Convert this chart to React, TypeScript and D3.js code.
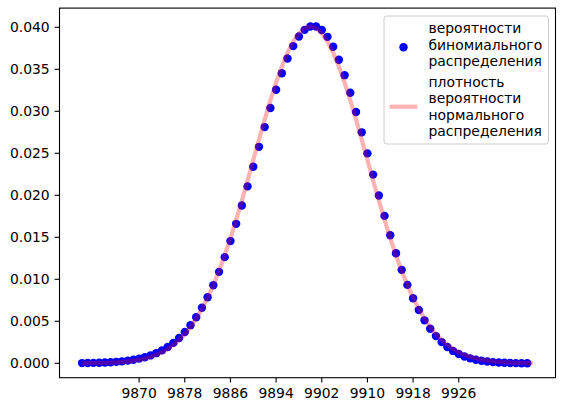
import React from "react";
import * as d3 from "d3";

// Support of the binomial distribution (integer outcomes)
const binomFirstK = 9860;
const binomLastK = 9938;
const normalFirstX = 9860;
const normalLastX = 9939;

// Binomial probabilities, k = 9860 .. 9938
const binomProb = [
  0.0000257, 0.0000332, 0.0000471, 0.0000661, 0.0000921, 0.000127, 0.000174, 0.000235, 0.000316, 0.00042,
  0.000553, 0.000724, 0.000939, 0.001206, 0.001536, 0.00194, 0.00243, 0.003018, 0.003718, 0.004541,
  0.005483, 0.006606, 0.007869, 0.009294, 0.010885, 0.012638, 0.014549, 0.016602, 0.018782, 0.02106,
  0.023402, 0.02577, 0.02812, 0.030399, 0.032558, 0.034538, 0.03629, 0.037761, 0.038909, 0.039696,
  0.040095, 0.04009, 0.039677, 0.038865, 0.037676, 0.03614, 0.034302, 0.032211, 0.029923, 0.027496,
  0.02499, 0.022464, 0.019968, 0.01755, 0.015251, 0.013102, 0.011125, 0.009336, 0.007743, 0.006344,
  0.005114, 0.004105, 0.00324, 0.002525, 0.001942, 0.001474, 0.001102, 0.000814, 0.000591, 0.000422,
  0.000298, 0.000206, 0.00014, 0.0000926, 0.0000601, 0.0000378, 0.0000231, 0.0000135, 0.0000094,
];

// Normal density, x = 9860 .. 9939
const normalPdf = [
  0.0000124, 0.0000185, 0.0000273, 0.0000398, 0.0000576, 0.0000824, 0.000117, 0.000164, 0.000228, 0.000313,
  0.000426, 0.000573, 0.000765, 0.00101, 0.001319, 0.001707, 0.002186, 0.002772, 0.003479, 0.004323,
  0.005318, 0.006475, 0.007806, 0.009315, 0.011005, 0.01287, 0.0149, 0.017076, 0.019375, 0.021762,
  0.024196, 0.026633, 0.029021, 0.031305, 0.03343, 0.035339, 0.036983, 0.038313, 0.039293, 0.039893,
  0.040095, 0.039893, 0.039293, 0.038313, 0.036983, 0.035339, 0.03343, 0.031305, 0.029021, 0.026633,
  0.024196, 0.021762, 0.019375, 0.017076, 0.0149, 0.01287, 0.011005, 0.009315, 0.007806, 0.006475,
  0.005318, 0.004323, 0.003479, 0.002772, 0.002186, 0.001707, 0.001319, 0.00101, 0.000765, 0.000573,
  0.000426, 0.000313, 0.000228, 0.000164, 0.000117, 0.0000824, 0.0000576, 0.0000398, 0.0000273, 0.0000185,
];

const xTicks = [9870, 9878, 9886, 9894, 9902, 9910, 9918, 9926];
const yTicks = [0, 0.005, 0.01, 0.015, 0.02, 0.025, 0.03, 0.035, 0.04];

const legendBinom = ["вероятности", "биномиального", "распределения"];
const legendNormal = ["плотность", "вероятности", "нормального", "распределения"];

const W = 565;
const H = 413;
const left = 59.5;
const right = 555.5;
const top = 8.1;
const bottom = 377.7;
const FONT = "DejaVu Sans, sans-serif";
const FS = 13.9;

export default function App() {
  const binomK = d3.range(binomFirstK, binomLastK + 1);
  const normX = d3.range(normalFirstX, normalLastX + 1);

  const xMin = d3.min([binomFirstK, normalFirstX])!;
  const xMax = d3.max([binomLastK, normalLastX])!;
  const xPad = (xMax - xMin) * 0.05;
  const x = d3.scaleLinear().domain([xMin - xPad, xMax + xPad]).range([left, right]);

  // y scale anchored to tick positions
  const y = d3.scaleLinear().domain([0, 0.04]).range([363.3, 27.3]);

  const line = d3
    .line<number>()
    .x((_, i) => x(normX[i]))
    .y((d) => y(d));

  const tickLen = 4.9;
  const pad = 4.9;

  const legX = 384;
  const legY = 16;
  const legW = 164.5;
  const legH = 128;

  return (
    <svg width={W} height={H} style={{ display: "block", position: "absolute", left: 0, top: 0 }}>
      <rect x={0} y={0} width={W} height={H} fill="#fff" />
      <defs>
        <clipPath id="plotclip">
          <rect x={left} y={top} width={right - left} height={bottom - top} />
        </clipPath>
      </defs>
      <g clipPath="url(#plotclip)">
        {binomProb.map((p, i) => (
          <circle key={i} cx={x(binomK[i])} cy={y(p)} r={4.2} fill="#0000ff" />
        ))}
        <path d={line(normalPdf) || ""} fill="none" stroke="#ff0000" strokeOpacity={0.3} strokeWidth={4.2} />
      </g>
      {/* spines */}
      <rect x={left} y={top} width={right - left} height={bottom - top} fill="none" stroke="#000" strokeWidth={1.1} />
      {/* x ticks */}
      {xTicks.map((t) => (
        <g key={t}>
          <line x1={x(t)} x2={x(t)} y1={bottom} y2={bottom + tickLen} stroke="#000" strokeWidth={1.1} />
          <text x={x(t)} y={bottom + tickLen + pad + 10.3} textAnchor="middle" fontFamily={FONT} fontSize={FS} fill="#000">
            {t}
          </text>
        </g>
      ))}
      {/* y ticks */}
      {yTicks.map((t) => (
        <g key={t}>
          <line x1={left - tickLen} x2={left} y1={y(t)} y2={y(t)} stroke="#000" strokeWidth={1.1} />
          <text x={left - tickLen - pad} y={y(t)} dy="0.36em" textAnchor="end" fontFamily={FONT} fontSize={FS} fill="#000">
            {d3.format(".3f")(t)}
          </text>
        </g>
      ))}
      {/* legend */}
      <rect x={legX} y={legY} width={legW} height={legH} rx={2.8} fill="#fff" fillOpacity={0.8} stroke="#cccccc" strokeWidth={1} />
      <circle cx={403.5} cy={47.3} r={4.2} fill="#0000ff" />
      {legendBinom.map((s, i) => (
        <text key={"b" + i} x={428.5} y={33 + i * 16.6} fontFamily={FONT} fontSize={FS} fill="#000">
          {s}
        </text>
      ))}
      <line x1={389.6} x2={417.4} y1={106.7} y2={106.7} stroke="#ff0000" strokeOpacity={0.3} strokeWidth={4.2} />
      {legendNormal.map((s, i) => (
        <text key={"n" + i} x={428.5} y={86.5 + i * 16.6} fontFamily={FONT} fontSize={FS} fill="#000">
          {s}
        </text>
      ))}
    </svg>
  );
}
